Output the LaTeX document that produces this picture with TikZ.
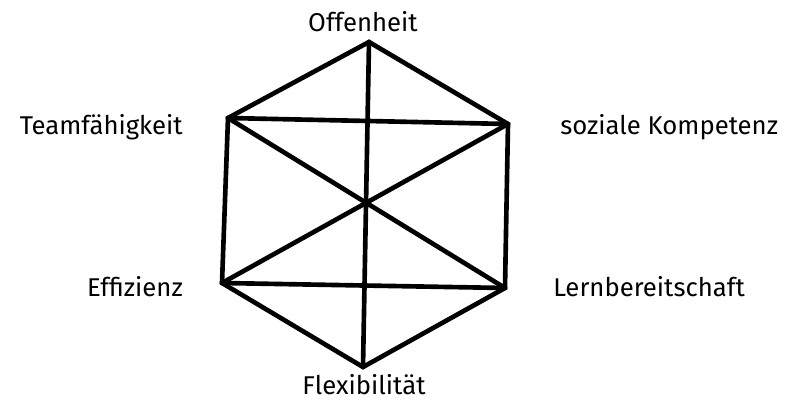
\documentclass[tikz,border=0pt]{standalone}
\usepackage{fontspec}
\setmainfont{Fira Sans}
\usepackage{tikz}
\usetikzlibrary{positioning}

\begin{document}
\begin{tikzpicture}[
  label/.style={font=\fontsize{18.3}{20}\selectfont, inner sep=0pt},
  edge/.style={line width=3.3pt, line join=miter, line cap=round},
]
  \useasboundingbox (0,0) rectangle (19.675,10.125);

  % corners of the hexagon
  \coordinate (off)  at (9.225, 9.075);
  \coordinate (team) at (5.7, 7.175);
  \coordinate (soz)  at (12.7, 7.025);
  \coordinate (eff)  at (5.55, 3.05);
  \coordinate (lern) at (12.625, 2.925);
  \coordinate (flex) at (9.075, 0.95);

  % labels
  \node[label] (offText)  at (9.075, 9.575)              {Offenheit};
  \node[label, anchor=east] (teamText) at (4.575, 6.95)  {Teamfähigkeit};
  \node[label, anchor=west] (sozText)  at (14.0, 6.95)   {soziale Kompetenz};
  \node[label, anchor=west] (lernText) at (13.825, 2.95) {Lernbereitschaft};
  \node[label, anchor=east] (effText)  at (4.575, 2.95)  {Effizienz};
  \node[label] (flexText) at (9.1, 0.5)                  {Flexibilität};

  % hexagon
  \draw[edge] (off) -- (soz) -- (lern) -- (flex) -- (eff) -- (team) -- cycle;
  % inner lines
  \draw[edge] (off) -- (flex);
  \draw[edge] (team) -- (soz);
  \draw[edge] (eff) -- (lern);
  \draw[edge] (team) -- (lern);
  \draw[edge] (soz) -- (eff);
\end{tikzpicture}
\end{document}
